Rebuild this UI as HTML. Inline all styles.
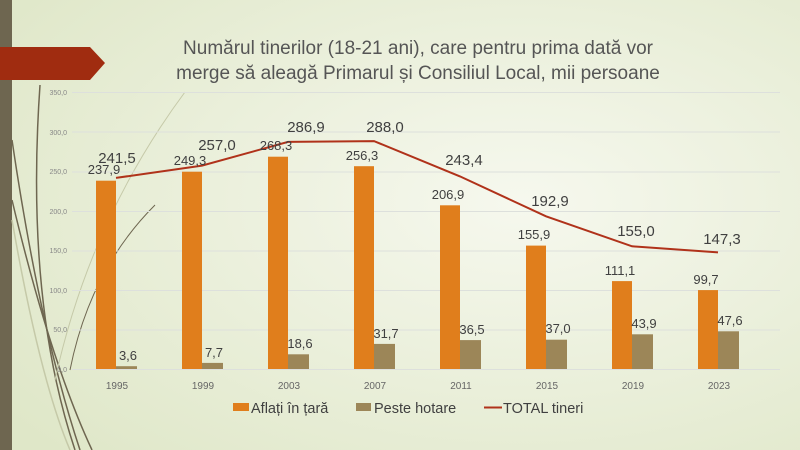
<!DOCTYPE html><html><head><style>body{margin:0}svg{display:block}</style></head><body>
<svg width="800" height="450" xmlns="http://www.w3.org/2000/svg" font-family="Liberation Sans, sans-serif">
<defs><radialGradient id="bg" cx="0.65" cy="0.45" r="0.8"><stop offset="0" stop-color="#f6f8ee"/><stop offset="1" stop-color="#dfe7c8"/></radialGradient></defs>
<rect width="800" height="450" fill="url(#bg)"/>
<rect x="0" y="0" width="12" height="450" fill="#6e6650"/>
<g fill="none" stroke-width="1.5">
<path d="M12 140 Q40 330 80 450" stroke="#6e6650"/>
<path d="M40 85 Q25 300 75 450" stroke="#6e6650"/>
<path d="M12 200 Q50 360 92 450" stroke="#6e6650"/>
<path d="M12 220 Q40 380 70 450" stroke="#c5c9a8"/>
<path d="M70 370 Q90 270 155 205" stroke="#6e6650" stroke-width="1"/>
<path d="M55 380 Q90 220 185 92" stroke="#c5c9a8" stroke-width="1"/>
</g>
<polygon points="0,47 90,47 105,63 90,80 0,80" fill="#a02c10"/>
<text x="418" y="54" font-size="19" fill="#555" text-anchor="middle">Numărul tinerilor (18-21 ani), care pentru prima dată vor</text>
<text x="418" y="79" font-size="19" fill="#555" text-anchor="middle">merge să aleagă Primarul și Consiliul Local, mii persoane</text>
<g stroke="#dde0dc" stroke-width="1">
<line x1="72" x2="780" y1="92.5" y2="92.5"/><line x1="72" x2="780" y1="132" y2="132"/><line x1="72" x2="780" y1="172" y2="172"/><line x1="72" x2="780" y1="211.5" y2="211.5"/><line x1="72" x2="780" y1="251" y2="251"/><line x1="72" x2="780" y1="290.5" y2="290.5"/><line x1="72" x2="780" y1="330" y2="330"/><line x1="72" x2="780" y1="369.5" y2="369.5"/>
</g>
<g font-size="7" fill="#888" text-anchor="end">
<text x="67" y="95">350,0</text><text x="67" y="135">300,0</text><text x="67" y="174">250,0</text><text x="67" y="214">200,0</text><text x="67" y="253">150,0</text><text x="67" y="293">100,0</text><text x="67" y="332">50,0</text><text x="67" y="372">0,0</text>
</g>
<g>
<rect x="96" y="180.7" width="20" height="188.3" fill="#e07e1c"/><rect x="116" y="366.2" width="21" height="2.8" fill="#9c8658"/>
<rect x="182" y="171.7" width="20" height="197.3" fill="#e07e1c"/><rect x="202" y="362.9" width="21" height="6.1" fill="#9c8658"/>
<rect x="268" y="156.7" width="20" height="212.3" fill="#e07e1c"/><rect x="288" y="354.3" width="21" height="14.7" fill="#9c8658"/>
<rect x="354" y="166.2" width="20" height="202.8" fill="#e07e1c"/><rect x="374" y="343.9" width="21" height="25.1" fill="#9c8658"/>
<rect x="440" y="205.3" width="20" height="163.7" fill="#e07e1c"/><rect x="460" y="340.1" width="21" height="28.9" fill="#9c8658"/>
<rect x="526" y="245.6" width="20" height="123.4" fill="#e07e1c"/><rect x="546" y="339.7" width="21" height="29.3" fill="#9c8658"/>
<rect x="612" y="281.1" width="20" height="87.9" fill="#e07e1c"/><rect x="632" y="334.3" width="21" height="34.7" fill="#9c8658"/>
<rect x="698" y="290.1" width="20" height="78.9" fill="#e07e1c"/><rect x="718" y="331.3" width="21" height="37.7" fill="#9c8658"/>
</g>
<polyline fill="none" stroke="#b0321a" stroke-width="2" points="116,177.9 202,165.6 288,141.9 374,141.1 460,176.4 546,216.3 632,246.3 718,252.4"/>
<g font-size="13" fill="#404040" text-anchor="middle">
<text x="104" y="174">237,9</text><text x="190" y="165">249,3</text><text x="276" y="150">268,3</text><text x="362" y="160">256,3</text><text x="448" y="199">206,9</text><text x="534" y="239">155,9</text><text x="620" y="275">111,1</text><text x="706" y="284">99,7</text>
<text x="128" y="360">3,6</text><text x="214" y="357">7,7</text><text x="300" y="348">18,6</text><text x="386" y="338">31,7</text><text x="472" y="334">36,5</text><text x="558" y="333">37,0</text><text x="644" y="328">43,9</text><text x="730" y="325">47,6</text>
</g>
<g font-size="15" fill="#404040" text-anchor="middle">
<text x="117" y="163">241,5</text><text x="217" y="150">257,0</text><text x="306" y="132">286,9</text><text x="385" y="132">288,0</text><text x="464" y="165">243,4</text><text x="550" y="206">192,9</text><text x="636" y="236">155,0</text><text x="722" y="244">147,3</text>
</g>
<g font-size="10" fill="#666" text-anchor="middle">
<text x="117" y="389">1995</text><text x="203" y="389">1999</text><text x="289" y="389">2003</text><text x="375" y="389">2007</text><text x="461" y="389">2011</text><text x="547" y="389">2015</text><text x="633" y="389">2019</text><text x="719" y="389">2023</text>
</g>
<g font-size="14.5" fill="#404040">
<rect x="233" y="403" width="16" height="8" fill="#e07e1c"/><text x="251" y="413">Aflați în țară</text>
<rect x="356" y="403" width="15" height="8" fill="#9c8658"/><text x="374" y="413">Peste hotare</text>
<line x1="484" x2="502" y1="407.5" y2="407.5" stroke="#b0321a" stroke-width="2"/><text x="503" y="413">TOTAL tineri</text>
</g>
</svg></body></html>
